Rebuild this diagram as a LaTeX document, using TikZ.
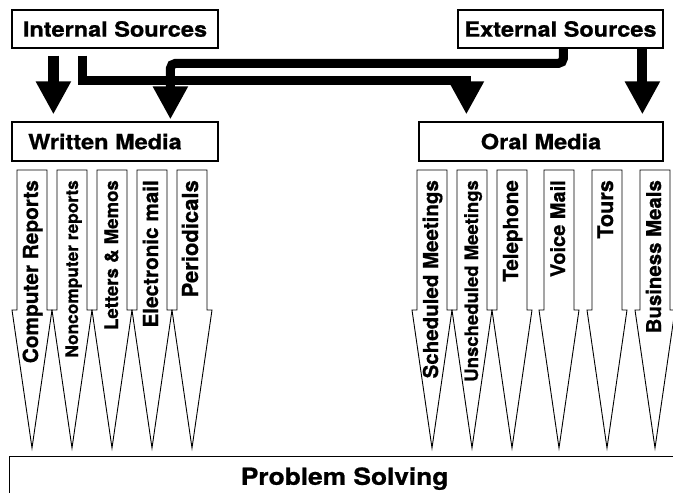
\documentclass[tikz,border=0pt]{standalone}
\usepackage{fontspec}
\setmainfont{TeX Gyre Heros}[BoldFeatures={FakeBold=0.8}]
\usetikzlibrary{arrows.meta,calc}

\begin{document}
\begin{tikzpicture}[x=1pt,y=-1pt,
  srcbox/.style={draw, line width=1.2pt, inner sep=0pt,
    font=\bfseries\fontsize{21}{25}\selectfont},
  feed/.style={line width=11pt, line join=miter,
    -{Triangle[width=33pt,length=33pt]}},
  route/.style={line width=9pt, line join=miter,
    -{Triangle[width=33pt,length=33pt]}},
  chan/.style={draw=black, fill=white, line width=0.9pt, line join=miter},
  chanlabel/.style={rotate=90, anchor=base east, inner sep=0pt,
    font=\bfseries\fontsize{#1}{#1}\selectfont},
]
\useasboundingbox (0,0) rectangle (673,493);
\clip (0,0) rectangle (673,493);
\fill[white] (0,0) rectangle (673,493);

% source and media boxes
\node[srcbox, minimum width=206pt, minimum height=38pt] (int) at (115,29)
  {\scalebox{1.12}[1]{Internal Sources}};
\node[srcbox, minimum width=205pt, minimum height=38pt] (ext) at (560.5,29)
  {\scalebox{1.12}[1]{External Sources}};
\node[srcbox, minimum width=206pt, minimum height=39pt] (wm) at (115,141.5)
  {\hspace*{-20pt}\scalebox{1.12}[1]{Written Media}};
\node[srcbox, minimum width=244pt, minimum height=39pt] (om) at (541,141.5)
  {\scalebox{1.12}[1]{Oral Media}};
\node[srcbox, minimum width=670pt, minimum height=44pt, anchor=north west,
  font=\bfseries\fontsize{23.5}{28}\selectfont] (ps) at (9,456)
  {\scalebox{1.12}[1]{Problem Solving}};

% flows from the sources to the media
\draw[feed] ($(int.south west)+(42,7)$) -- ($(wm.north west)+(42,-7)$);
\draw[route] ($(int.south west)+(71.5,7)$) |- ($(om.north west)+(48,-41)$)
  -- ($(om.north west)+(48,-7)$);
\draw[route, rounded corners=5pt] ($(ext.south west)+(106,0)$)
  |- ($(wm.north west)+(159,-58)$) -- ($(wm.north west)+(159,-2)$);
\draw[feed, line width=10pt] ($(ext.south west)+(185,0)$) -- ($(om.north west)+(224,-7)$);

% channel arrows down to problem solving
\foreach \cx in {32,72,112,152,192,432,472,512,559,607,655}
  \draw[chan] (\cx-15,170) -- (\cx+15,170) -- (\cx+15,310) -- (\cx+20,310)
    -- (\cx,448) -- (\cx-20,310) -- (\cx-15,310) -- cycle;

\foreach \cx/\fs/\nm/\txt in {
    32/20.8/cr/Computer Reports,
    72/17.3/ncr/Noncomputer reports,
    112/18.6/lm/Letters \& Memos,
    152/20.7/em/Electronic mail,
    192/22/per/Periodicals,
    432/20.5/sm/Scheduled Meetings,
    472/18.5/um/Unscheduled Meetings,
    512/20.6/tel/Telephone,
    559/20/vm/Voice Mail,
    607/21.6/tour/Tours,
    655/20.4/bm/Business Meals}
  \node[chanlabel=\fs] (\nm) at (\cx+6,180) {\txt};
\end{tikzpicture}
\end{document}
